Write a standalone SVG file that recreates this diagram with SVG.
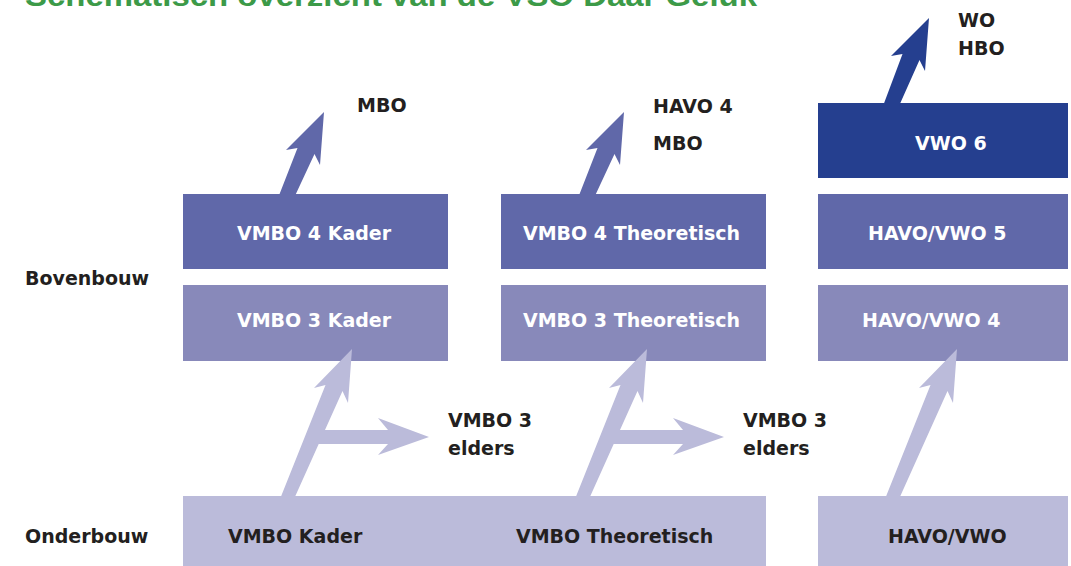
<svg xmlns="http://www.w3.org/2000/svg" width="1071" height="566" viewBox="0 0 1071 566">
<style>
text{font-family:"DejaVu Sans","Liberation Sans",sans-serif;font-weight:bold;font-size:19px}
.w{fill:#ffffff}
.k{fill:#231f20}
.r4{fill:#6068a9}
.r3{fill:#8889ba}
.r1{fill:#bbbbda}
.r6{fill:#253f8f}
.title{font-family:"Liberation Sans",Arial,sans-serif;font-size:29px;fill:#3c9a48}
</style>
<rect width="1071" height="566" fill="#ffffff"/>
<text class="title" x="25" y="6" textLength="732" lengthAdjust="spacingAndGlyphs">Schematisch overzicht van de VSO Daar Geluk</text>
<g id="labels">
<text class="k" x="25" y="285">Bovenbouw</text>
<text class="k" x="25" y="543">Onderbouw</text>
</g>
<g id="onderbouw-vmbo">
<rect class="r1" x="183" y="496" width="583" height="70"/>
<text class="k" x="228" y="543">VMBO Kader</text>
<text class="k" x="516" y="543">VMBO Theoretisch</text>
</g>
<g id="onderbouw-havovwo">
<rect class="r1" x="818" y="496" width="250" height="70"/>
<text class="k" x="888" y="543">HAVO/VWO</text>
</g>
<g id="vmbo3kader">
<rect class="r3" x="183" y="285" width="265" height="76"/>
<text class="w" x="237" y="327">VMBO 3 Kader</text>
</g>
<g id="vmbo4kader">
<rect class="r4" x="183" y="194" width="265" height="75"/>
<text class="w" x="237" y="240">VMBO 4 Kader</text>
</g>
<g id="vmbo3theo">
<rect class="r3" x="501" y="285" width="265" height="76"/>
<text class="w" x="523" y="327">VMBO 3 Theoretisch</text>
</g>
<g id="vmbo4theo">
<rect class="r4" x="501" y="194" width="265" height="75"/>
<text class="w" x="523" y="240">VMBO 4 Theoretisch</text>
</g>
<g id="havovwo4">
<rect class="r3" x="818" y="285" width="250" height="76"/>
<text class="w" x="862" y="327">HAVO/VWO 4</text>
</g>
<g id="havovwo5">
<rect class="r4" x="818" y="194" width="250" height="75"/>
<text class="w" x="868" y="240">HAVO/VWO 5</text>
</g>
<g id="vwo6">
<rect class="r6" x="818" y="103" width="250" height="75"/>
<text class="w" x="915" y="150">VWO 6</text>
</g>
<g id="mbo1"><text class="k" x="357" y="112">MBO</text></g>
<g id="havo4mbo"><text class="k" x="653" y="113">HAVO 4</text><text class="k" x="653" y="150">MBO</text></g>
<g id="wohbo"><text class="k" x="958" y="27">WO</text><text class="k" x="958" y="55">HBO</text></g>
<g id="elders1"><text class="k" x="448" y="427">VMBO 3</text><text class="k" x="448" y="455">elders</text></g>
<g id="elders2"><text class="k" x="743" y="427">VMBO 3</text><text class="k" x="743" y="455">elders</text></g>
<g id="connectors">
<path class="r4" d="M278,198 L297.5,148 L286,150 L324,112 L320,165 L314.5,154 L294,198 Z"/>
<path class="r4" d="M578,198 L597.5,148 L586,150 L624,112 L620,165 L614.5,154 L594,198 Z"/>
<path class="r6" d="M883,106 L902.5,54 L891,56 L929,18 L925,71 L919.5,60 L899,106 Z"/>
<path class="r1" d="M280,499 L325.5,385 L314,388 L352,349 L348,403 L342.5,391 L294,499 Z"/>
<path class="r1" d="M316,430 L388,430 L378,418 L429,437 L378,455 L388,444 L310,444 Z"/>
<path class="r1" d="M575,499 L620.5,385 L609,388 L647,349 L643,403 L637.5,391 L589,499 Z"/>
<path class="r1" d="M611,430 L683,430 L673,418 L724,437 L673,455 L683,444 L605,444 Z"/>
<path class="r1" d="M885,499 L930.5,385 L919,388 L957,349 L953,403 L947.5,391 L899,499 Z"/>
</g>
</svg>
